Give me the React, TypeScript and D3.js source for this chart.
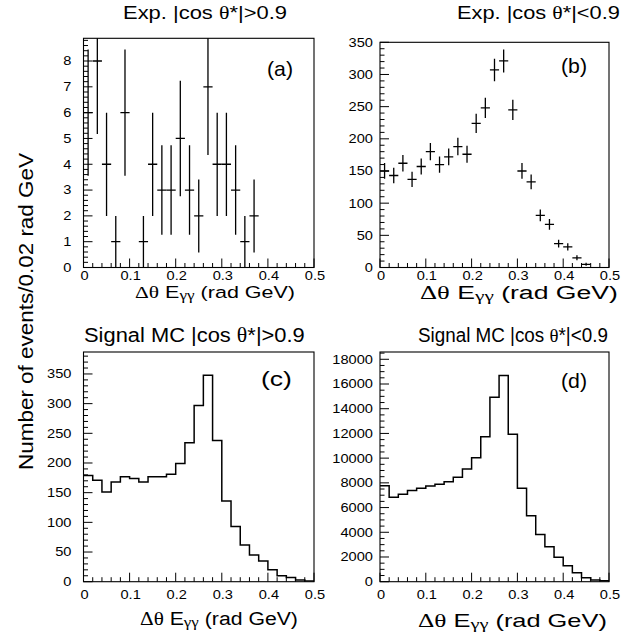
import React, { useLayoutEffect, useRef, useState } from "react";
import * as d3 from "d3";

// ---------- data ----------
const binLow = [0, 0.02, 0.04, 0.06, 0.08, 0.1, 0.12, 0.14, 0.16, 0.18, 0.2, 0.22, 0.24, 0.26, 0.28, 0.3, 0.32, 0.34, 0.36, 0.38, 0.4, 0.42, 0.44, 0.46, 0.48];
const binWidth = 0.02;

const expHighCounts = [6, 8, 4, 1, 6, 0, 1, 4, 3, 3, 5, 3, 2, 7, 4, 4, 3, 1, 2, 0, 0, 0, 0, 0, 0];
const expLowCounts = [150, 143, 162, 137, 157, 180, 160, 172, 188, 176, 224, 248, 307, 321, 245, 150, 133, 81, 67, 37, 32, 15, 5, 0, 0];
const mcHighCounts = [179, 171, 151, 168, 177, 174, 168, 177, 177, 181, 199, 234, 297, 348, 238, 136, 93, 62, 45, 35, 20, 10, 7, 3, 1];
const mcLowCounts = [7770, 6830, 7070, 7390, 7555, 7745, 7880, 8095, 8445, 9120, 10040, 11740, 14920, 16680, 11930, 7555, 5340, 3830, 2830, 1970, 1295, 730, 325, 135, 80];

const xTicks = [0, 0.1, 0.2, 0.3, 0.4, 0.5];
const xTickLabels = ["0", "0.1", "0.2", "0.3", "0.4", "0.5"];
const aYTicks = [0, 1, 2, 3, 4, 5, 6, 7, 8];
const bYTicks = [0, 50, 100, 150, 200, 250, 300, 350];
const cYTicks = [0, 50, 100, 150, 200, 250, 300, 350];
const dYTicks = [0, 2000, 4000, 6000, 8000, 10000, 12000, 14000, 16000, 18000];

const titles = ["Exp. |cos ", "θ", "*|>0.9", "Exp. |cos ", "θ", "*|<0.9", "Signal MC |cos ", "θ", "*|>0.9", "Signal MC |cos ", "θ", "*|<0.9"];
const panelLabels = ["(a)", "(b)", "(c)", "(d)"];
const yTitle = "Number of events/0.02 rad GeV";
const xTitleParts = ["Δθ", " E", "γγ", " (rad GeV)"];

// ---------- layout ----------
const SANS = "'Liberation Sans', Arial, Helvetica, sans-serif";
const SERIF = "'Liberation Serif', 'DejaVu Serif', serif";

type Panel = {
  x0: number; x1: number; y0: number; y1: number; ymax: number;
  yTicks: number[]; yMinor: number; values: number[]; kind: "err" | "hist";
  title: string[]; tX: number; tY: number; tW: number; tS: number;
  label: string; lX: number; lY: number; lW: number; lS: number;
  axX: number; axY: number; axW: number; axS: number;
  yLabRight: number; xLabBase: number;
};

const panels: Panel[] = [
  {
    x0: 83.5, x1: 314, y0: 38.3, y1: 267.5, ymax: 8.88, yTicks: aYTicks, yMinor: 0.2, values: expHighCounts, kind: "err",
    title: titles.slice(0, 3), tX: 123, tY: 19, tW: 164, tS: 19,
    label: panelLabels[0], lX: 267, lY: 76, lW: 26, lS: 20,
    axX: 135, axY: 298, axW: 160, axS: 17, yLabRight: 71.5, xLabBase: 279.5,
  },
  {
    x0: 380, x1: 609, y0: 42.3, y1: 267.5, ymax: 350, yTicks: bYTicks, yMinor: 10, values: expLowCounts, kind: "err",
    title: titles.slice(3, 6), tX: 457, tY: 19, tW: 163, tS: 19,
    label: panelLabels[1], lX: 561, lY: 73, lW: 26, lS: 20,
    axX: 420, axY: 299, axW: 198, axS: 18, yLabRight: 373, xLabBase: 279.5,
  },
  {
    x0: 83.5, x1: 314, y0: 352, y1: 581.7, ymax: 387, yTicks: cYTicks, yMinor: 10, values: mcHighCounts, kind: "hist",
    title: titles.slice(6, 9), tX: 84, tY: 342, tW: 221, tS: 21,
    label: panelLabels[2], lX: 261, lY: 386, lW: 31, lS: 21,
    axX: 140, axY: 625, axW: 158, axS: 18, yLabRight: 71.5, xLabBase: 598.5,
  },
  {
    x0: 380, x1: 609, y0: 352, y1: 581.7, ymax: 18590, yTicks: dYTicks, yMinor: 500, values: mcLowCounts, kind: "hist",
    title: titles.slice(9, 12), tX: 418, tY: 342, tW: 190, tS: 19.5,
    label: panelLabels[3], lX: 561, lY: 388, lW: 26, lS: 20,
    axX: 418, axY: 627, axW: 189, axS: 19, yLabRight: 373, xLabBase: 598.5,
  },
];

const MAJ = 9;
const MIN = 4.5;
const TICK_FS = 12.5;
const TICK_SX = 1.17;

// text scaled horizontally so that its width becomes w
function SText({ x, y, w, size, children }: { x: number; y: number; w: number; size: number; children: React.ReactNode }) {
  const ref = useRef<SVGTextElement>(null);
  const [sx, setSx] = useState(1);
  useLayoutEffect(() => {
    if (ref.current) {
      const len = ref.current.getComputedTextLength();
      if (len > 0) setSx(w / len);
    }
  }, [w]);
  return (
    <text ref={ref} transform={`translate(${x},${y}) scale(${sx},1)`} fontFamily={SANS} fontSize={size} fill="#000">
      {children}
    </text>
  );
}

function TickLabel({ x, y, anchor, text }: { x: number; y: number; anchor: string; text: string }) {
  return (
    <text
      transform={`translate(${x},${y}) scale(${TICK_SX},1)`}
      textAnchor={anchor}
      fontFamily={SANS}
      fontSize={TICK_FS}
      fill="#000"
    >
      {text}
    </text>
  );
}

function PanelView({ p, idx }: { p: Panel; idx: number }) {
  const x = d3.scaleLinear().domain([0, 0.5]).range([p.x0, p.x1]);
  const y = d3.scaleLinear().domain([0, p.ymax]).range([p.y1, p.y0]);
  const xMinor = d3.range(0, 0.5 + 1e-9, 0.02).filter((v) => Math.abs(v * 10 - Math.round(v * 10)) > 1e-6);
  const yMinor = d3.range(0, p.ymax, p.yMinor).filter((v) => !p.yTicks.some((t) => Math.abs(t - v) < 1e-6));
  const clipId = `clip${idx}`;

  let marks: React.ReactNode = null;
  if (p.kind === "hist") {
    const pts: [number, number][] = binLow.map((b, i) => [b, p.values[i]]);
    pts.push([binLow[binLow.length - 1] + binWidth, p.values[p.values.length - 1]]);
    const line = d3
      .line<[number, number]>()
      .x((d) => x(d[0]))
      .y((d) => y(d[1]))
      .curve(d3.curveStepAfter);
    marks = <path d={line(pts) || ""} fill="none" stroke="#000" strokeWidth={1.5} />;
  } else {
    marks = binLow.map((b, i) => {
      const v = p.values[i];
      if (v <= 0) return null;
      const e = Math.sqrt(v);
      const xc = x(b + binWidth / 2);
      return (
        <g key={i} stroke="#000" strokeWidth={1.3}>
          <line x1={x(b)} x2={x(b + binWidth)} y1={y(v)} y2={y(v)} />
          <line x1={xc} x2={xc} y1={y(v - e)} y2={y(v + e)} />
        </g>
      );
    });
  }

  return (
    <g>
      <defs>
        <clipPath id={clipId}>
          <rect x={p.x0} y={p.y0} width={p.x1 - p.x0} height={p.y1 - p.y0} />
        </clipPath>
      </defs>
      <g clipPath={`url(#${clipId})`}>{marks}</g>
      <rect x={p.x0} y={p.y0} width={p.x1 - p.x0} height={p.y1 - p.y0} fill="none" stroke="#000" strokeWidth={1.1} />
      <g stroke="#000" strokeWidth={1}>
        {p.yTicks.map((t) => (
          <line key={`ym${t}`} x1={p.x0} x2={p.x0 + MAJ} y1={y(t)} y2={y(t)} />
        ))}
        {yMinor.map((t) => (
          <line key={`yn${t}`} x1={p.x0} x2={p.x0 + MIN} y1={y(t)} y2={y(t)} />
        ))}
        {xTicks.map((t) => (
          <line key={`xm${t}`} x1={x(t)} x2={x(t)} y1={p.y1} y2={p.y1 - MAJ} />
        ))}
        {xMinor.map((t) => (
          <line key={`xn${t}`} x1={x(t)} x2={x(t)} y1={p.y1} y2={p.y1 - MIN} />
        ))}
      </g>
      {p.yTicks.map((t) => (
        <TickLabel key={`yl${t}`} x={p.yLabRight} y={y(t) + 4.4} anchor="end" text={String(t)} />
      ))}
      {xTicks.map((t, i) => (
        <TickLabel key={`xl${t}`} x={x(t) + 1} y={p.xLabBase} anchor="middle" text={xTickLabels[i]} />
      ))}
      <SText x={p.tX} y={p.tY} w={p.tW} size={p.tS}>
        {p.title[0]}
        <tspan fontFamily={SERIF}>{p.title[1]}</tspan>
        {p.title[2]}
      </SText>
      <SText x={p.lX} y={p.lY} w={p.lW} size={p.lS}>
        {p.label}
      </SText>
      <SText x={p.axX} y={p.axY} w={p.axW} size={p.axS}>
        <tspan fontFamily={SERIF}>{xTitleParts[0]}</tspan>
        <tspan>{xTitleParts[1]}</tspan>
        <tspan fontFamily={SERIF} fontSize={p.axS * 0.8} dy={2}>{xTitleParts[2]}</tspan>
        <tspan dy={-2}>{xTitleParts[3]}</tspan>
      </SText>
    </g>
  );
}

export default function App() {
  return (
    <svg
      width={631}
      height={637}
      viewBox="0 0 631 637"
      style={{ position: "absolute", left: 0, top: 0, background: "#fff" }}
    >
      <rect x={0} y={0} width={631} height={637} fill="#fff" />
      {panels.map((p, i) => (
        <PanelView key={i} p={p} idx={i} />
      ))}
      <text
        transform="translate(33,311.5) rotate(-90)"
        textAnchor="middle"
        fontFamily={SANS}
        fontSize={21}
        textLength={317}
        lengthAdjust="spacingAndGlyphs"
        fill="#000"
      >
        {yTitle}
      </text>
    </svg>
  );
}
